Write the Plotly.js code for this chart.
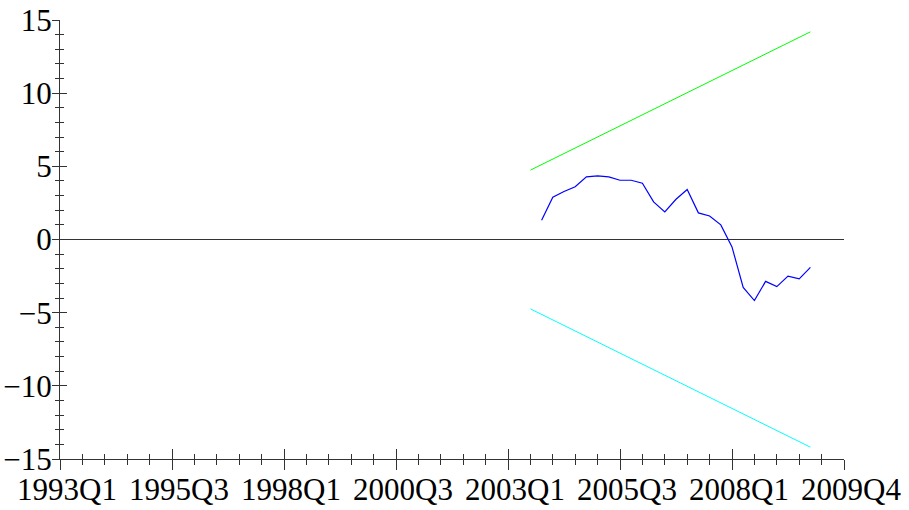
<!DOCTYPE html>
<html>
<head>
<meta charset="utf-8">
<script src="https://cdn.plot.ly/plotly-3.0.1.min.js"></script>
<style>html,body{margin:0;padding:0;background:#fff;}#chart{width:909px;height:510px;}</style>
</head>
<body>
<div id="chart"></div>
<script>
// ---- data ----
const bandQuarters = ["2003Q3","2003Q4","2004Q1","2004Q2","2004Q3","2004Q4","2005Q1","2005Q2","2005Q3","2005Q4",
  "2006Q1","2006Q2","2006Q3","2006Q4","2007Q1","2007Q2","2007Q3","2007Q4","2008Q1","2008Q2",
  "2008Q3","2008Q4","2009Q1","2009Q2","2009Q3","2009Q4"];
const upperBand = [4.74,5.12,5.50,5.87,6.25,6.63,7.01,7.39,7.76,8.14,8.52,8.90,9.28,9.65,10.03,10.41,
  10.79,11.17,11.54,11.92,12.30,12.68,13.06,13.43,13.81,14.19];
const lowerBand = [-4.74,-5.12,-5.50,-5.87,-6.25,-6.63,-7.01,-7.39,-7.76,-8.14,-8.52,-8.90,-9.28,-9.65,
  -10.03,-10.41,-10.79,-11.17,-11.54,-11.92,-12.30,-12.68,-13.06,-13.43,-13.81,-14.19];
const seriesQuarters = bandQuarters.slice(1);
const seriesValues = [1.32,2.89,3.28,3.60,4.28,4.35,4.28,4.05,4.05,3.85,2.57,1.89,2.75,3.42,1.82,1.61,1.00,
  -0.51,-3.28,-4.17,-2.86,-3.22,-2.50,-2.69,-1.91];
const tickLabels = ["1993Q1","1995Q3","1998Q1","2000Q3","2003Q1","2005Q3","2008Q1","2009Q4"];
const tickPositions = [0,10,20,30,40,50,60,70];

// quarter label -> index (1993Q1 = 0)
function qIndex(s){ return (parseInt(s.slice(0,4))-1993)*4 + parseInt(s.slice(5))-1; }

const xRange = [0,70], yRange = [-15,15];
function mkFont(){ return {family:"Liberation Serif, Times New Roman, serif", size:31, color:"#000"}; }

const traces = [
  {x: bandQuarters.map(qIndex), y: upperBand, mode:"lines", line:{color:"#00ff00", width:1}, hoverinfo:"skip"},
  {x: bandQuarters.map(qIndex), y: lowerBand, mode:"lines", line:{color:"#00ffff", width:1}, hoverinfo:"skip"},
  {x: seriesQuarters.map(qIndex), y: seriesValues, mode:"lines", line:{color:"#0000ff", width:1.2}, hoverinfo:"skip"},
  {x: [], y: [], xaxis:"x2", yaxis:"y2", mode:"lines", hoverinfo:"skip"}
];

const layout = {
  width:909, height:510,
  margin:{l:60, r:65, t:20, b:51},
  paper_bgcolor:"#fff", plot_bgcolor:"#fff",
  showlegend:false,
  font: mkFont(),
  xaxis:{range:xRange, tickmode:"array", tickvals:tickPositions, ticktext:tickLabels,
    ticks:"outside", ticklen:10, tickcolor:"#333", tickwidth:1,
    ticklabelstandoff:-7, ticklabelshift:7,
    minor:{tickmode:"linear", tick0:0, dtick:2, ticks:"outside", ticklen:5, tickcolor:"#333", tickwidth:1},
    showline:true, linecolor:"#333", linewidth:1, showgrid:false, zeroline:false, tickfont:mkFont(), fixedrange:true},
  yaxis:{range:yRange, tickmode:"linear", tick0:-15, dtick:5,
    ticks:"outside", ticklen:7, tickcolor:"#333", tickwidth:1,
    ticklabelstandoff:-6,
    minor:{tickmode:"linear", tick0:-15, dtick:1, ticks:"outside", ticklen:4, tickcolor:"#333", tickwidth:1},
    showline:true, linecolor:"#333", linewidth:1, showgrid:false,
    zeroline:true, zerolinecolor:"#333", zerolinewidth:1, tickfont:mkFont(), fixedrange:true},
  xaxis2:{overlaying:"x", anchor:"y2", range:xRange, tickmode:"array", tickvals:tickPositions,
    ticks:"inside", ticklen:10, tickcolor:"#333", showticklabels:false,
    minor:{tickmode:"linear", tick0:0, dtick:2, ticks:"inside", ticklen:5, tickcolor:"#333"},
    showline:false, showgrid:false, zeroline:false, fixedrange:true},
  yaxis2:{overlaying:"y", anchor:"x2", side:"left", range:yRange, tickmode:"linear", tick0:-15, dtick:5,
    ticks:"inside", ticklen:7, tickcolor:"#333", showticklabels:false,
    minor:{tickmode:"linear", tick0:-15, dtick:1, ticks:"inside", ticklen:4, tickcolor:"#333"},
    showline:false, showgrid:false, zeroline:false, fixedrange:true}
};

Plotly.newPlot("chart", traces, layout, {staticPlot:true, displayModeBar:false});
</script>
</body>
</html>
